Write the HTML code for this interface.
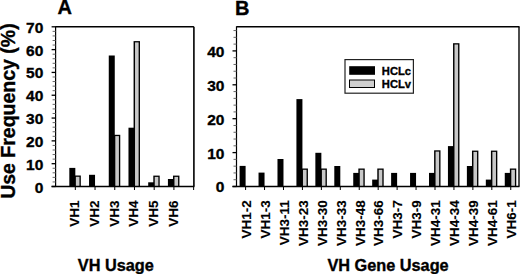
<!DOCTYPE html>
<html><head><meta charset="utf-8"><style>
html,body{margin:0;padding:0;background:#fff;}
body{width:520px;height:274px;overflow:hidden;}
svg{display:block;}
text{font-family:"Liberation Sans",sans-serif;font-weight:bold;fill:#000;stroke:#000;stroke-width:0.35px;}
text.cat{stroke-width:0.15px;}
</style></head><body>
<svg width="520" height="274" viewBox="0 0 520 274" shape-rendering="auto">
<rect width="520" height="274" fill="#fff"/>
<rect x="69.32" y="167.90" width="6.00" height="18.60" fill="#000"/>
<rect x="74.42" y="175.50" width="6.40" height="11.00" fill="#000"/>
<rect x="75.87" y="176.80" width="3.60" height="9.70" fill="#c8c8c8"/>
<rect x="89.04" y="174.80" width="6.00" height="11.70" fill="#000"/>
<rect x="108.76" y="55.50" width="6.00" height="131.00" fill="#000"/>
<rect x="113.86" y="134.80" width="6.40" height="51.70" fill="#000"/>
<rect x="115.31" y="136.10" width="3.60" height="50.40" fill="#c8c8c8"/>
<rect x="128.48" y="127.70" width="6.00" height="58.80" fill="#000"/>
<rect x="133.58" y="41.10" width="6.40" height="145.40" fill="#000"/>
<rect x="135.03" y="42.40" width="3.60" height="144.10" fill="#c8c8c8"/>
<rect x="148.20" y="182.30" width="6.00" height="4.20" fill="#000"/>
<rect x="153.30" y="175.60" width="6.40" height="10.90" fill="#000"/>
<rect x="154.75" y="176.90" width="3.60" height="9.60" fill="#c8c8c8"/>
<rect x="167.92" y="179.00" width="6.00" height="7.50" fill="#000"/>
<rect x="173.02" y="175.60" width="6.40" height="10.90" fill="#000"/>
<rect x="174.47" y="176.90" width="3.60" height="9.60" fill="#c8c8c8"/>
<line x1="55.60" y1="26.80" x2="193.90" y2="26.80" stroke="#000" stroke-width="1.4"/>
<line x1="193.90" y1="26.80" x2="193.90" y2="186.50" stroke="#000" stroke-width="1.6"/>
<line x1="55.60" y1="26.30" x2="55.60" y2="187.00" stroke="#000" stroke-width="1.2"/>
<line x1="51.60" y1="186.50" x2="194.40" y2="186.50" stroke="#000" stroke-width="1.3"/>
<line x1="51.60" y1="186.50" x2="55.60" y2="186.50" stroke="#000" stroke-width="1.3"/>
<text x="43.30" y="192.50" font-size="15.5" text-anchor="end">0</text>
<line x1="52.60" y1="181.94" x2="55.60" y2="181.94" stroke="#666" stroke-width="1"/>
<line x1="52.60" y1="177.37" x2="55.60" y2="177.37" stroke="#666" stroke-width="1"/>
<line x1="52.60" y1="172.81" x2="55.60" y2="172.81" stroke="#666" stroke-width="1"/>
<line x1="52.60" y1="168.25" x2="55.60" y2="168.25" stroke="#666" stroke-width="1"/>
<line x1="51.60" y1="163.69" x2="55.60" y2="163.69" stroke="#000" stroke-width="1.3"/>
<text x="43.30" y="169.69" font-size="15.5" text-anchor="end">10</text>
<line x1="52.60" y1="159.12" x2="55.60" y2="159.12" stroke="#666" stroke-width="1"/>
<line x1="52.60" y1="154.56" x2="55.60" y2="154.56" stroke="#666" stroke-width="1"/>
<line x1="52.60" y1="150.00" x2="55.60" y2="150.00" stroke="#666" stroke-width="1"/>
<line x1="52.60" y1="145.43" x2="55.60" y2="145.43" stroke="#666" stroke-width="1"/>
<line x1="51.60" y1="140.87" x2="55.60" y2="140.87" stroke="#000" stroke-width="1.3"/>
<text x="43.30" y="146.87" font-size="15.5" text-anchor="end">20</text>
<line x1="52.60" y1="136.31" x2="55.60" y2="136.31" stroke="#666" stroke-width="1"/>
<line x1="52.60" y1="131.75" x2="55.60" y2="131.75" stroke="#666" stroke-width="1"/>
<line x1="52.60" y1="127.18" x2="55.60" y2="127.18" stroke="#666" stroke-width="1"/>
<line x1="52.60" y1="122.62" x2="55.60" y2="122.62" stroke="#666" stroke-width="1"/>
<line x1="51.60" y1="118.06" x2="55.60" y2="118.06" stroke="#000" stroke-width="1.3"/>
<text x="43.30" y="124.06" font-size="15.5" text-anchor="end">30</text>
<line x1="52.60" y1="113.49" x2="55.60" y2="113.49" stroke="#666" stroke-width="1"/>
<line x1="52.60" y1="108.93" x2="55.60" y2="108.93" stroke="#666" stroke-width="1"/>
<line x1="52.60" y1="104.37" x2="55.60" y2="104.37" stroke="#666" stroke-width="1"/>
<line x1="52.60" y1="99.81" x2="55.60" y2="99.81" stroke="#666" stroke-width="1"/>
<line x1="51.60" y1="95.24" x2="55.60" y2="95.24" stroke="#000" stroke-width="1.3"/>
<text x="43.30" y="101.24" font-size="15.5" text-anchor="end">40</text>
<line x1="52.60" y1="90.68" x2="55.60" y2="90.68" stroke="#666" stroke-width="1"/>
<line x1="52.60" y1="86.12" x2="55.60" y2="86.12" stroke="#666" stroke-width="1"/>
<line x1="52.60" y1="81.55" x2="55.60" y2="81.55" stroke="#666" stroke-width="1"/>
<line x1="52.60" y1="76.99" x2="55.60" y2="76.99" stroke="#666" stroke-width="1"/>
<line x1="51.60" y1="72.43" x2="55.60" y2="72.43" stroke="#000" stroke-width="1.3"/>
<text x="43.30" y="78.43" font-size="15.5" text-anchor="end">50</text>
<line x1="52.60" y1="67.87" x2="55.60" y2="67.87" stroke="#666" stroke-width="1"/>
<line x1="52.60" y1="63.30" x2="55.60" y2="63.30" stroke="#666" stroke-width="1"/>
<line x1="52.60" y1="58.74" x2="55.60" y2="58.74" stroke="#666" stroke-width="1"/>
<line x1="52.60" y1="54.18" x2="55.60" y2="54.18" stroke="#666" stroke-width="1"/>
<line x1="51.60" y1="49.61" x2="55.60" y2="49.61" stroke="#000" stroke-width="1.3"/>
<text x="43.30" y="55.61" font-size="15.5" text-anchor="end">60</text>
<line x1="52.60" y1="45.05" x2="55.60" y2="45.05" stroke="#666" stroke-width="1"/>
<line x1="52.60" y1="40.49" x2="55.60" y2="40.49" stroke="#666" stroke-width="1"/>
<line x1="52.60" y1="35.93" x2="55.60" y2="35.93" stroke="#666" stroke-width="1"/>
<line x1="52.60" y1="31.36" x2="55.60" y2="31.36" stroke="#666" stroke-width="1"/>
<line x1="51.60" y1="26.80" x2="55.60" y2="26.80" stroke="#000" stroke-width="1.3"/>
<text x="43.30" y="32.80" font-size="15.5" text-anchor="end">70</text>
<line x1="75.32" y1="186.50" x2="75.32" y2="190.00" stroke="#000" stroke-width="1"/>
<line x1="95.04" y1="186.50" x2="95.04" y2="190.00" stroke="#000" stroke-width="1"/>
<line x1="114.76" y1="186.50" x2="114.76" y2="190.00" stroke="#000" stroke-width="1"/>
<line x1="134.48" y1="186.50" x2="134.48" y2="190.00" stroke="#000" stroke-width="1"/>
<line x1="154.20" y1="186.50" x2="154.20" y2="190.00" stroke="#000" stroke-width="1"/>
<line x1="173.92" y1="186.50" x2="173.92" y2="190.00" stroke="#000" stroke-width="1"/>
<line x1="193.64" y1="186.50" x2="193.64" y2="190.00" stroke="#000" stroke-width="1"/>
<text x="79.32" y="200.50" font-size="13.5" text-anchor="end" transform="rotate(-90 79.32 200.50)" class="cat">VH1</text>
<text x="99.04" y="200.50" font-size="13.5" text-anchor="end" transform="rotate(-90 99.04 200.50)" class="cat">VH2</text>
<text x="118.76" y="200.50" font-size="13.5" text-anchor="end" transform="rotate(-90 118.76 200.50)" class="cat">VH3</text>
<text x="138.48" y="200.50" font-size="13.5" text-anchor="end" transform="rotate(-90 138.48 200.50)" class="cat">VH4</text>
<text x="158.20" y="200.50" font-size="13.5" text-anchor="end" transform="rotate(-90 158.20 200.50)" class="cat">VH5</text>
<text x="177.92" y="200.50" font-size="13.5" text-anchor="end" transform="rotate(-90 177.92 200.50)" class="cat">VH6</text>
<rect x="239.60" y="165.90" width="6.00" height="20.60" fill="#000"/>
<rect x="258.54" y="172.60" width="6.00" height="13.90" fill="#000"/>
<rect x="277.48" y="159.00" width="6.00" height="27.50" fill="#000"/>
<rect x="296.42" y="99.10" width="6.00" height="87.40" fill="#000"/>
<rect x="301.52" y="168.50" width="6.40" height="18.00" fill="#000"/>
<rect x="302.97" y="169.80" width="3.60" height="16.70" fill="#c8c8c8"/>
<rect x="315.36" y="152.80" width="6.00" height="33.70" fill="#000"/>
<rect x="320.46" y="168.50" width="6.40" height="18.00" fill="#000"/>
<rect x="321.91" y="169.80" width="3.60" height="16.70" fill="#c8c8c8"/>
<rect x="334.30" y="166.00" width="6.00" height="20.50" fill="#000"/>
<rect x="353.24" y="172.90" width="6.00" height="13.60" fill="#000"/>
<rect x="358.34" y="168.50" width="6.40" height="18.00" fill="#000"/>
<rect x="359.79" y="169.80" width="3.60" height="16.70" fill="#c8c8c8"/>
<rect x="372.18" y="179.60" width="6.00" height="6.90" fill="#000"/>
<rect x="377.28" y="168.50" width="6.40" height="18.00" fill="#000"/>
<rect x="378.73" y="169.80" width="3.60" height="16.70" fill="#c8c8c8"/>
<rect x="391.12" y="172.90" width="6.00" height="13.60" fill="#000"/>
<rect x="410.06" y="172.90" width="6.00" height="13.60" fill="#000"/>
<rect x="429.00" y="172.90" width="6.00" height="13.60" fill="#000"/>
<rect x="434.10" y="150.30" width="6.40" height="36.20" fill="#000"/>
<rect x="435.55" y="151.60" width="3.60" height="34.90" fill="#c8c8c8"/>
<rect x="447.94" y="146.10" width="6.00" height="40.40" fill="#000"/>
<rect x="453.04" y="43.20" width="6.40" height="143.30" fill="#000"/>
<rect x="454.49" y="44.50" width="3.60" height="142.00" fill="#c8c8c8"/>
<rect x="466.88" y="166.00" width="6.00" height="20.50" fill="#000"/>
<rect x="471.98" y="150.60" width="6.40" height="35.90" fill="#000"/>
<rect x="473.43" y="151.90" width="3.60" height="34.60" fill="#c8c8c8"/>
<rect x="485.82" y="179.60" width="6.00" height="6.90" fill="#000"/>
<rect x="490.92" y="150.60" width="6.40" height="35.90" fill="#000"/>
<rect x="492.37" y="151.90" width="3.60" height="34.60" fill="#c8c8c8"/>
<rect x="504.76" y="172.90" width="6.00" height="13.60" fill="#000"/>
<rect x="509.86" y="168.50" width="6.40" height="18.00" fill="#000"/>
<rect x="511.31" y="169.80" width="3.60" height="16.70" fill="#c8c8c8"/>
<line x1="236.50" y1="26.80" x2="519.50" y2="26.80" stroke="#000" stroke-width="1.4"/>
<line x1="519.00" y1="26.80" x2="519.00" y2="186.50" stroke="#000" stroke-width="1.4"/>
<line x1="236.50" y1="26.30" x2="236.50" y2="187.00" stroke="#000" stroke-width="1.2"/>
<line x1="232.50" y1="186.50" x2="519.50" y2="186.50" stroke="#000" stroke-width="1.3"/>
<line x1="232.50" y1="186.50" x2="236.50" y2="186.50" stroke="#000" stroke-width="1.3"/>
<text x="224.40" y="192.40" font-size="15.5" text-anchor="end">0</text>
<line x1="233.50" y1="179.72" x2="236.50" y2="179.72" stroke="#666" stroke-width="1"/>
<line x1="233.50" y1="172.94" x2="236.50" y2="172.94" stroke="#666" stroke-width="1"/>
<line x1="233.50" y1="166.16" x2="236.50" y2="166.16" stroke="#666" stroke-width="1"/>
<line x1="233.50" y1="159.38" x2="236.50" y2="159.38" stroke="#666" stroke-width="1"/>
<line x1="232.50" y1="152.60" x2="236.50" y2="152.60" stroke="#000" stroke-width="1.3"/>
<text x="224.40" y="158.50" font-size="15.5" text-anchor="end">10</text>
<line x1="233.50" y1="145.82" x2="236.50" y2="145.82" stroke="#666" stroke-width="1"/>
<line x1="233.50" y1="139.04" x2="236.50" y2="139.04" stroke="#666" stroke-width="1"/>
<line x1="233.50" y1="132.26" x2="236.50" y2="132.26" stroke="#666" stroke-width="1"/>
<line x1="233.50" y1="125.48" x2="236.50" y2="125.48" stroke="#666" stroke-width="1"/>
<line x1="232.50" y1="118.70" x2="236.50" y2="118.70" stroke="#000" stroke-width="1.3"/>
<text x="224.40" y="124.60" font-size="15.5" text-anchor="end">20</text>
<line x1="233.50" y1="111.92" x2="236.50" y2="111.92" stroke="#666" stroke-width="1"/>
<line x1="233.50" y1="105.14" x2="236.50" y2="105.14" stroke="#666" stroke-width="1"/>
<line x1="233.50" y1="98.36" x2="236.50" y2="98.36" stroke="#666" stroke-width="1"/>
<line x1="233.50" y1="91.58" x2="236.50" y2="91.58" stroke="#666" stroke-width="1"/>
<line x1="232.50" y1="84.80" x2="236.50" y2="84.80" stroke="#000" stroke-width="1.3"/>
<text x="224.40" y="90.70" font-size="15.5" text-anchor="end">30</text>
<line x1="233.50" y1="78.02" x2="236.50" y2="78.02" stroke="#666" stroke-width="1"/>
<line x1="233.50" y1="71.24" x2="236.50" y2="71.24" stroke="#666" stroke-width="1"/>
<line x1="233.50" y1="64.46" x2="236.50" y2="64.46" stroke="#666" stroke-width="1"/>
<line x1="233.50" y1="57.68" x2="236.50" y2="57.68" stroke="#666" stroke-width="1"/>
<line x1="232.50" y1="50.90" x2="236.50" y2="50.90" stroke="#000" stroke-width="1.3"/>
<text x="224.40" y="56.80" font-size="15.5" text-anchor="end">40</text>
<line x1="233.50" y1="44.12" x2="236.50" y2="44.12" stroke="#666" stroke-width="1"/>
<line x1="233.50" y1="37.34" x2="236.50" y2="37.34" stroke="#666" stroke-width="1"/>
<line x1="233.50" y1="30.56" x2="236.50" y2="30.56" stroke="#666" stroke-width="1"/>
<line x1="245.60" y1="186.50" x2="245.60" y2="190.00" stroke="#000" stroke-width="1"/>
<line x1="264.54" y1="186.50" x2="264.54" y2="190.00" stroke="#000" stroke-width="1"/>
<line x1="283.48" y1="186.50" x2="283.48" y2="190.00" stroke="#000" stroke-width="1"/>
<line x1="302.42" y1="186.50" x2="302.42" y2="190.00" stroke="#000" stroke-width="1"/>
<line x1="321.36" y1="186.50" x2="321.36" y2="190.00" stroke="#000" stroke-width="1"/>
<line x1="340.30" y1="186.50" x2="340.30" y2="190.00" stroke="#000" stroke-width="1"/>
<line x1="359.24" y1="186.50" x2="359.24" y2="190.00" stroke="#000" stroke-width="1"/>
<line x1="378.18" y1="186.50" x2="378.18" y2="190.00" stroke="#000" stroke-width="1"/>
<line x1="397.12" y1="186.50" x2="397.12" y2="190.00" stroke="#000" stroke-width="1"/>
<line x1="416.06" y1="186.50" x2="416.06" y2="190.00" stroke="#000" stroke-width="1"/>
<line x1="435.00" y1="186.50" x2="435.00" y2="190.00" stroke="#000" stroke-width="1"/>
<line x1="453.94" y1="186.50" x2="453.94" y2="190.00" stroke="#000" stroke-width="1"/>
<line x1="472.88" y1="186.50" x2="472.88" y2="190.00" stroke="#000" stroke-width="1"/>
<line x1="491.82" y1="186.50" x2="491.82" y2="190.00" stroke="#000" stroke-width="1"/>
<line x1="510.76" y1="186.50" x2="510.76" y2="190.00" stroke="#000" stroke-width="1"/>
<text x="250.90" y="200.20" font-size="13.5" text-anchor="end" transform="rotate(-90 250.90 200.20)" class="cat">VH1-2</text>
<text x="269.84" y="200.20" font-size="13.5" text-anchor="end" transform="rotate(-90 269.84 200.20)" class="cat">VH1-3</text>
<text x="288.78" y="200.20" font-size="13.5" text-anchor="end" transform="rotate(-90 288.78 200.20)" class="cat">VH3-11</text>
<text x="307.72" y="200.20" font-size="13.5" text-anchor="end" transform="rotate(-90 307.72 200.20)" class="cat">VH3-23</text>
<text x="326.66" y="200.20" font-size="13.5" text-anchor="end" transform="rotate(-90 326.66 200.20)" class="cat">VH3-30</text>
<text x="345.60" y="200.20" font-size="13.5" text-anchor="end" transform="rotate(-90 345.60 200.20)" class="cat">VH3-33</text>
<text x="364.54" y="200.20" font-size="13.5" text-anchor="end" transform="rotate(-90 364.54 200.20)" class="cat">VH3-48</text>
<text x="383.48" y="200.20" font-size="13.5" text-anchor="end" transform="rotate(-90 383.48 200.20)" class="cat">VH3-66</text>
<text x="402.42" y="200.20" font-size="13.5" text-anchor="end" transform="rotate(-90 402.42 200.20)" class="cat">VH3-7</text>
<text x="421.36" y="200.20" font-size="13.5" text-anchor="end" transform="rotate(-90 421.36 200.20)" class="cat">VH3-9</text>
<text x="440.30" y="200.20" font-size="13.5" text-anchor="end" transform="rotate(-90 440.30 200.20)" class="cat">VH4-31</text>
<text x="459.24" y="200.20" font-size="13.5" text-anchor="end" transform="rotate(-90 459.24 200.20)" class="cat">VH4-34</text>
<text x="478.18" y="200.20" font-size="13.5" text-anchor="end" transform="rotate(-90 478.18 200.20)" class="cat">VH4-39</text>
<text x="497.12" y="200.20" font-size="13.5" text-anchor="end" transform="rotate(-90 497.12 200.20)" class="cat">VH4-61</text>
<text x="516.06" y="200.20" font-size="13.5" text-anchor="end" transform="rotate(-90 516.06 200.20)" class="cat">VH6-1</text>
<rect x="345" y="59.6" width="68.4" height="33.6" fill="#fff" stroke="#222" stroke-width="1.2"/>
<rect x="349.20" y="66.20" width="25.80" height="8.60" fill="#000"/>
<rect x="349.5" y="80" width="25" height="7.5" fill="#cfcfcf" stroke="#000" stroke-width="1"/>
<text x="381.80" y="74.80" font-size="11.2" text-anchor="start">HCLc</text>
<text x="381.80" y="87.70" font-size="11.2" text-anchor="start">HCLv</text>
<text x="57.40" y="14.40" font-size="20" text-anchor="start">A</text>
<text x="235.10" y="14.80" font-size="20" text-anchor="start">B</text>
<text x="77.80" y="271.30" font-size="16.3" text-anchor="start">VH Usage</text>
<text x="327.40" y="270.80" font-size="16.3" text-anchor="start">VH Gene Usage</text>
<text x="14.80" y="111.10" font-size="19.5" text-anchor="middle" transform="rotate(-90 14.80 111.10)">Use Frequency (%)</text>
</svg>
</body></html>
